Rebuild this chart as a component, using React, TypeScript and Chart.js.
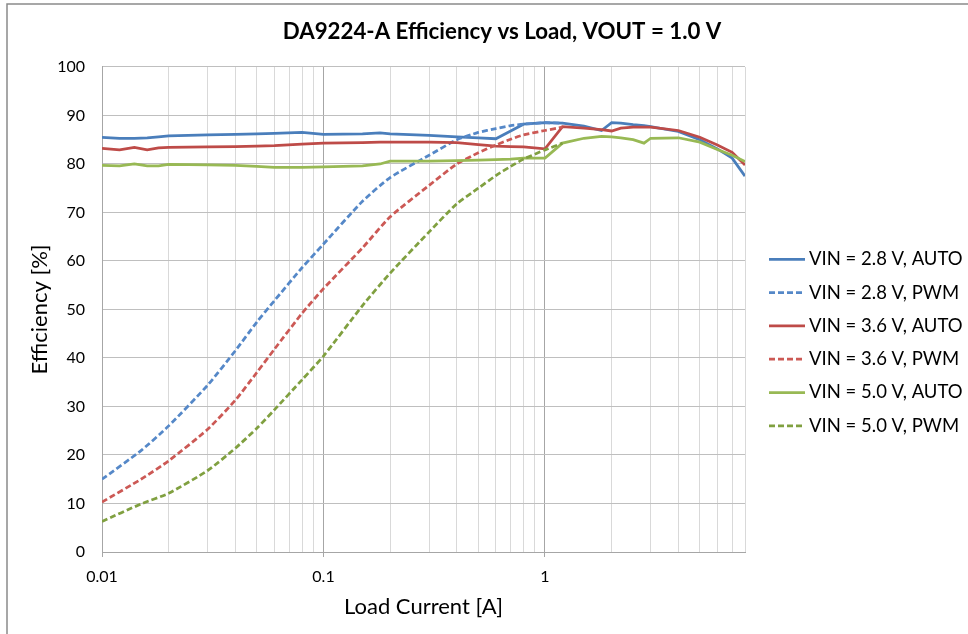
import { useEffect, useRef } from 'react';
import { Chart, registerables } from 'chart.js';
Chart.register(...registerables);

// Load current [A] for AUTO-mode measurements
const loadAuto = [0.01, 0.012, 0.014, 0.016, 0.018, 0.02, 0.03, 0.04, 0.05, 0.06, 0.08, 0.1, 0.15, 0.18, 0.2, 0.3, 0.4, 0.5, 0.6, 0.7, 0.8, 1.0, 1.2, 1.5, 1.8, 2.0, 2.2, 2.5, 2.8, 3.0, 4, 5, 6, 7, 8];
const eff28Auto = [85.5, 85.3, 85.3, 85.4, 85.6, 85.8, 86.0, 86.1, 86.2, 86.3, 86.5, 86.1, 86.2, 86.4, 86.2, 85.9, 85.6, 85.4, 85.2, 86.8, 88.2, 88.5, 88.4, 87.8, 86.9, 88.5, 88.4, 88.1, 87.9, 87.7, 86.7, 85.0, 83.1, 81.2, 77.5];
const eff36Auto = [83.2, 82.9, 83.4, 82.9, 83.3, 83.4, 83.5, 83.6, 83.7, 83.8, 84.1, 84.3, 84.4, 84.5, 84.5, 84.5, 84.4, 84.0, 83.7, 83.6, 83.5, 83.1, 87.7, 87.4, 87.1, 86.8, 87.4, 87.6, 87.6, 87.6, 86.9, 85.5, 83.9, 82.4, 79.8];
const eff50Auto = [79.7, 79.6, 80.0, 79.6, 79.6, 79.9, 79.8, 79.7, 79.5, 79.3, 79.3, 79.4, 79.6, 80.0, 80.6, 80.6, 80.7, 80.8, 80.9, 81.0, 81.2, 81.2, 84.3, 85.3, 85.7, 85.6, 85.4, 85.0, 84.3, 85.3, 85.4, 84.5, 83.0, 81.8, 80.5];

// Load current [A] for PWM-mode measurements
const loadPwm = [0.01, 0.015, 0.02, 0.03, 0.04, 0.05, 0.06, 0.08, 0.1, 0.15, 0.2, 0.3, 0.4, 0.5, 0.6, 0.7, 0.8, 1.0, 1.2];
const eff28Pwm = [15.0, 20.9, 26.0, 34.4, 41.5, 47.4, 51.8, 58.6, 63.5, 72.3, 77.2, 81.8, 85.0, 86.5, 87.3, 87.9, 88.2, 88.5, 88.4];
const eff36Pwm = [10.3, 15.0, 18.8, 25.3, 31.3, 37.0, 41.8, 49.2, 54.3, 62.7, 69.1, 75.6, 80.0, 82.3, 83.9, 85.1, 86.0, 86.9, 87.6];
const eff50Pwm = [6.3, 9.9, 12.1, 16.8, 21.4, 25.5, 29.3, 35.5, 40.4, 50.8, 57.5, 66.0, 71.8, 75.0, 77.6, 79.5, 81.0, 82.9, 84.3];

const seriesLabels = ['VIN = 2.8 V, AUTO', 'VIN = 2.8 V, PWM', 'VIN = 3.6 V, AUTO', 'VIN = 3.6 V, PWM', 'VIN = 5.0 V, AUTO', 'VIN = 5.0 V, PWM'];
const xTickValues = [0.01, 0.02, 0.03, 0.04, 0.05, 0.06, 0.07, 0.08, 0.09, 0.1, 0.2, 0.3, 0.4, 0.5, 0.6, 0.7, 0.8, 0.9, 1, 2, 3, 4, 5, 6, 7, 8];

const FONT = 'Lato, "Open Sans", sans-serif';
const BLUE = '#4A7EBB';
const BLUE_D = '#5588C8';
const RED = '#BE4B48';
const RED_D = '#CC5955';
const GREEN = '#98B954';
const GREEN_D = '#80A040';

const isDecade = (v: number) => {
  const l = Math.log10(v);
  return Math.abs(l - Math.round(l)) < 1e-6;
};

const framePlugin = {
  id: 'frame',
  beforeDraw(chart: any) {
    const ctx = chart.ctx;
    ctx.save();
    ctx.fillStyle = '#FFFFFF';
    ctx.fillRect(0, 0, chart.width, chart.height);
    ctx.strokeStyle = '#8A8A8A';
    ctx.lineWidth = 1.5;
    ctx.beginPath();
    ctx.moveTo(7, chart.height);
    ctx.lineTo(7, 4);
    ctx.lineTo(chart.width, 4);
    ctx.stroke();
    ctx.restore();
  },
};

const sideLegendPlugin = {
  id: 'sideLegend',
  afterDraw(chart: any) {
    const ctx = chart.ctx;
    const y0 = 259.3;
    const dy = 33.3;
    chart.data.datasets.forEach((ds: any, i: number) => {
      const y = y0 + i * dy;
      ctx.save();
      ctx.strokeStyle = ds.borderColor;
      ctx.lineWidth = 2.75;
      ctx.setLineDash(ds.borderDash || []);
      ctx.beginPath();
      ctx.moveTo(769, y);
      ctx.lineTo(805, y);
      ctx.stroke();
      ctx.setLineDash([]);
      ctx.fillStyle = '#000';
      ctx.font = `18.5px ${FONT}`;
      ctx.textBaseline = 'middle';
      ctx.textAlign = 'left';
      ctx.fillText(ds.label, 809, y);
      ctx.restore();
    });
  },
};

export default function App() {
  const ref = useRef<HTMLCanvasElement>(null);
  useEffect(() => {
    document.body.style.margin = '0';
    if (!ref.current) return;
    const mk = (xs: number[], ys: number[]) => xs.map((x, i) => ({ x, y: ys[i] }));
    const defs = [
      { xs: loadAuto, ys: eff28Auto, color: BLUE, dash: [] as number[] },
      { xs: loadPwm, ys: eff28Pwm, color: BLUE_D, dash: [6, 3] },
      { xs: loadAuto, ys: eff36Auto, color: RED, dash: [] as number[] },
      { xs: loadPwm, ys: eff36Pwm, color: RED_D, dash: [6, 3] },
      { xs: loadAuto, ys: eff50Auto, color: GREEN, dash: [] as number[] },
      { xs: loadPwm, ys: eff50Pwm, color: GREEN_D, dash: [6, 3] },
    ];
    const chart = new Chart(ref.current, {
      type: 'line',
      data: {
        datasets: defs.map((d, i) => ({
          label: seriesLabels[i],
          data: mk(d.xs, d.ys),
          borderColor: d.color,
          backgroundColor: d.color,
          borderDash: d.dash,
          borderWidth: 2.75,
          pointRadius: 0,
          tension: d.dash.length ? 0.2 : 0,
          fill: false,
          order: 6 - i,
          yAxisID: 'y',
          xAxisID: 'x',
        })),
      },
      options: {
        responsive: false,
        animation: false,
        devicePixelRatio: 1,
        layout: { padding: { left: 36, right: 0, top: 0, bottom: 0 } },
        plugins: {
          legend: { display: false },
          tooltip: { enabled: false },
          title: {
            display: true,
            text: 'DA9224-A Efficiency vs Load, VOUT = 1.0 V',
            color: '#000',
            font: { family: FONT, size: 22.3, weight: 'bold', lineHeight: 1.2 },
            padding: { top: 18.6, bottom: 21.6 },
          },
        },
        scales: {
          x: {
            type: 'logarithmic',
            min: 0.01,
            max: 8,
            afterBuildTicks: (s: any) => {
              s.ticks = xTickValues.map((v) => ({ value: v }));
            },
            afterFit: (s: any) => {
              s.height = 82;
            },
            ticks: {
              autoSkip: false,
              maxRotation: 0,
              padding: 10,
              color: '#000',
              font: { family: FONT, size: 16 },
              callback: (v: any) => (isDecade(Number(v)) ? String(v) : ''),
            },
            grid: {
              color: (c: any) => (c.tick && isDecade(c.tick.value) ? '#A6A6A6' : '#D9D9D9'),
              tickColor: (c: any) => (c.tick && isDecade(c.tick.value) ? '#A6A6A6' : 'rgba(0,0,0,0)'),
              tickLength: 5,
              lineWidth: 1,
            },
            border: { color: '#A6A6A6' },
            title: {
              display: true,
              text: 'Load Current [A]',
              color: '#000',
              font: { family: FONT, size: 22, lineHeight: 1.2 },
              padding: { top: 0, bottom: 13.8 },
            },
          },
          y: {
            min: 0,
            max: 100,
            afterFit: (s: any) => {
              s.width = 66;
            },
            ticks: { stepSize: 10, padding: 17, color: '#000', font: { family: FONT, size: 16 } },
            grid: { color: '#BFBFBF', drawTicks: false },
            border: { color: '#A6A6A6' },
            title: {
              display: true,
              text: 'Efficiency [%]',
              color: '#000',
              font: { family: FONT, size: 22, lineHeight: 1.2 },
              padding: { top: -9.2, bottom: 0 },
            },
          },
          yR: {
            position: 'right',
            display: true,
            afterFit: (s: any) => {
              s.width = 223;
            },
            grid: { display: false },
            ticks: { display: false },
            border: { display: false },
          },
        },
      } as any,
      plugins: [framePlugin, sideLegendPlugin],
    });
    return () => chart.destroy();
  }, []);
  return (
    <div style={{ position: 'relative', width: 968, height: 634 }}>
      <canvas ref={ref} width={968} height={634} style={{ display: 'block' }} />
    </div>
  );
}
